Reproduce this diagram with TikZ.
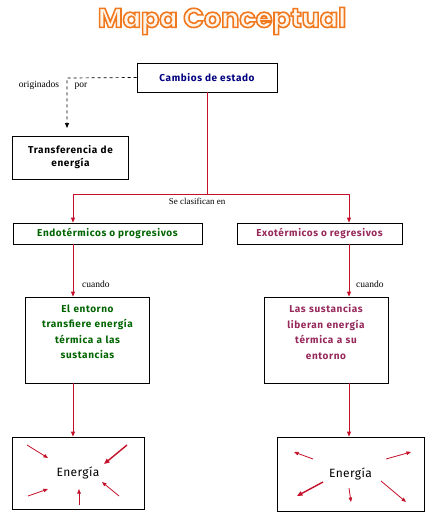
\documentclass[tikz,border=0pt]{standalone}
\usepackage{fontspec}
\setmainfont{Liberation Serif}
\newfontfamily\boxfont{Fira Sans}[LetterSpace=6]
\newfontfamily\enfont{Fira Sans}[LetterSpace=3]
\newfontfamily\titlefont{Poppins}
\usetikzlibrary{arrows.meta}
\definecolor{lred}{RGB}{196,16,40}
\definecolor{navy}{RGB}{0,0,128}
\definecolor{dgreen}{RGB}{0,100,0}
\definecolor{plum}{RGB}{150,40,90}
\definecolor{torange}{RGB}{240,120,30}
\definecolor{tfill}{RGB}{255,244,232}
\newcommand{\hollowtext}[1]{\textcolor{tfill}{\special{pdf:literal direct 2 Tr 1.6 w 0.94 0.47 0.12 RG}#1\special{pdf:literal direct 0 Tr}}}
\tikzset{
  concept/.style={draw=black, line width=0.8pt, fill=white, align=center, inner sep=2pt,
    font=\boxfont\bfseries\fontsize{10}{13}\selectfont},
  tall/.style={font=\boxfont\bfseries\fontsize{10}{15.5}\selectfont},
  lab/.style={font=\fontsize{9.5}{11}\selectfont, inner sep=0pt},
  rline/.style={draw=lred, line width=0.8pt},
  rarrow/.style={rline, -{Triangle[length=5pt,width=4pt]}},
  darrow/.style={draw=black, line width=0.7pt, dashed, -{Triangle[length=5pt,width=4pt]}},
  ray/.style={draw=lred, line width=0.8pt, -{Triangle[length=4.5pt,width=3.5pt]}},
  thickray/.style={ray, line width=1.4pt, -{Triangle[length=5.5pt,width=4.5pt]}}
}
\begin{document}
\begin{tikzpicture}[x=1pt,y=-1pt]
\useasboundingbox (0,0) rectangle (432,519);
\fill[white] (0,0) rectangle (432,519);
% title
\node (title) at (222,21) {\titlefont\bfseries\fontsize{27}{30}\selectfont\hollowtext{Mapa Conceptual}};
% nodes
\node[concept, text=navy, minimum width=140, minimum height=29] (cambios) at (207,77.5) {Cambios de estado};
\node[concept, text=black, minimum width=115, minimum height=43, text width=112] (transf) at (70.5,157.5) {Transferencia de\\energía};
\node[concept, text=dgreen, minimum width=189, minimum height=21] (endo) at (107.5,233.5) {Endotérmicos o progresivos};
\node[concept, text=plum, minimum width=165, minimum height=21] (exo) at (319.5,233.5) {Exotérmicos o regresivos};
\node[concept, tall, text=dgreen, minimum width=123, minimum height=86, text width=120] (ent) at (87.5,340) {El entorno\\transfiere energía\\térmica a las\\sustancias\\[1pt]\mbox{}};
\node[concept, tall, text=plum, minimum width=124, minimum height=86, text width=120] (sus) at (326,340) {Las sustancias\\liberan energía\\térmica a su\\entorno\\[1pt]\mbox{}};
\node[concept, minimum width=132, minimum height=72, font=\enfont\fontsize{12}{14}\selectfont] (en1) at (78,473) {Energía};
\node[concept, minimum width=147, minimum height=74, font=\enfont\fontsize{12}{14}\selectfont] (en2) at (350.5,474) {Energía};
% dashed connector
\coordinate (dc) at (67,78);
\coordinate (dt) at (67,128);
\draw[darrow] (cambios.west) -- (dc) -- (dt);
\node[lab, anchor=base] (orig) at (39,87) {originados};
\node[lab, anchor=base] (por) at (81,87) {por};
% red tree
\coordinate (j) at (207,194);
\coordinate (jl) at (73,194);
\coordinate (jr) at (349,194);
\draw[rline] (cambios.south) -- (j);
\draw[rline] (jl) -- (jr);
\draw[rarrow] (jl) -- (jl |- endo.north);
\draw[rarrow] (jr) -- (jr |- exo.north);
\node[lab, anchor=base, font=\fontsize{9}{11}\selectfont] (clas) at (197,204) {Se clasifican en};
\draw[rarrow] (endo.south -| jl) -- (ent.north -| jl);
\draw[rarrow] (exo.south -| jr) -- (sus.north -| jr);
\node[lab, anchor=base west] (c1) at (82,287) {cuando};
\node[lab, anchor=base west] (c2) at (356,287) {cuando};
\draw[rarrow] (ent.south -| jl) -- (en1.north -| jl);
\draw[rarrow] (sus.south -| jr) -- (en2.north -| jr);
% inward rays
\draw[ray] (27,445) -- (48,458);
\draw[thickray] (127,445) -- (104,464);
\draw[ray] (28,496) -- (48,489);
\draw[ray] (79,505) -- (79,489);
\draw[ray] (119,496) -- (102,482);
% outward rays
\draw[ray] (313,459) -- (294,452);
\draw[ray] (386,459) -- (411,452);
\draw[thickray] (323,482) -- (297,496);
\draw[ray] (349,488) -- (351,502);
\draw[ray] (381,481) -- (406,502);
\end{tikzpicture}
\end{document}
